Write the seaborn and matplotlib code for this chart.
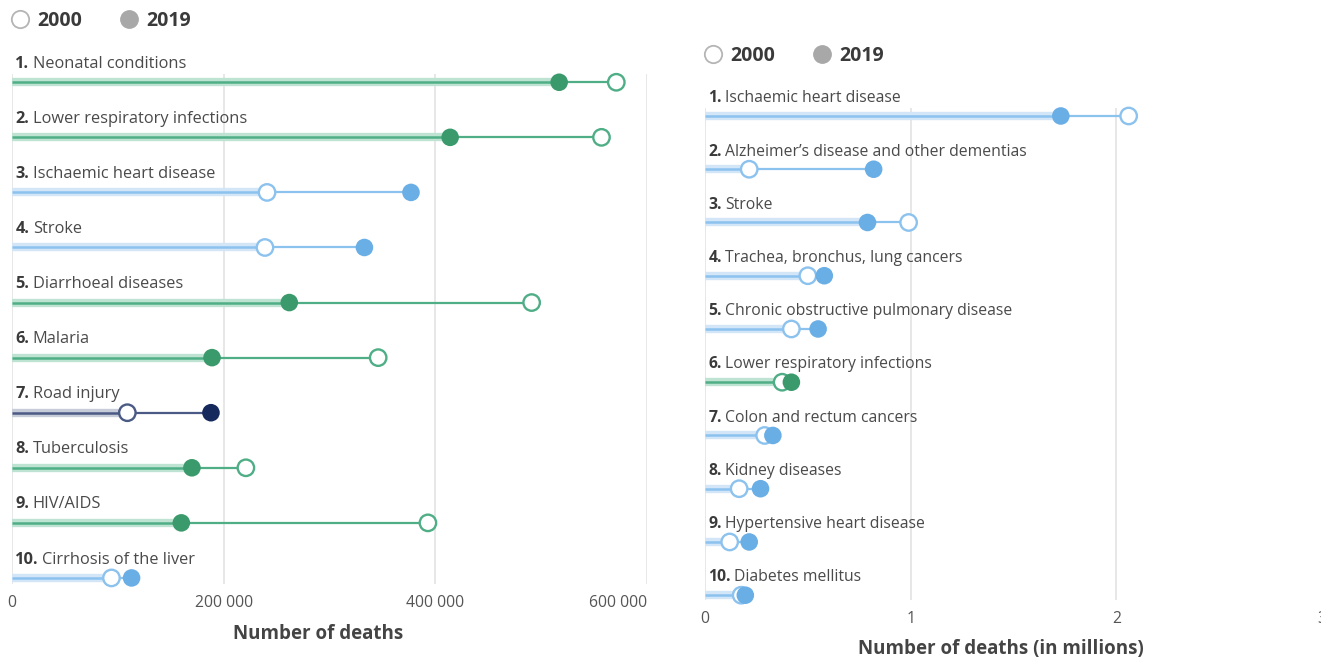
import matplotlib
matplotlib.use("Agg")
import matplotlib.pyplot as plt
from matplotlib.lines import Line2D
from matplotlib.ticker import FuncFormatter
import seaborn as sns
import pandas as pd

# ---------------- data ----------------
left_causes = ["Neonatal conditions", "Lower respiratory infections", "Ischaemic heart disease",
               "Stroke", "Diarrhoeal diseases", "Malaria", "Road injury", "Tuberculosis",
               "HIV/AIDS", "Cirrhosis of the liver"]
left_2000 = [571000, 557000, 241000, 239000, 491000, 346000, 109000, 221000, 393000, 94000]
left_2019 = [517000, 414000, 377000, 333000, 262000, 189000, 188000, 170000, 160000, 113000]
left_group = ["Communicable", "Communicable", "Noncommunicable", "Noncommunicable", "Communicable",
              "Communicable", "Injuries", "Communicable", "Communicable", "Noncommunicable"]
left_ticks = [0, 200000, 400000, 600000]

right_causes = ["Ischaemic heart disease", "Alzheimer\u2019s disease and other dementias", "Stroke",
                "Trachea, bronchus, lung cancers", "Chronic obstructive pulmonary disease",
                "Lower respiratory infections", "Colon and rectum cancers", "Kidney diseases",
                "Hypertensive heart disease", "Diabetes mellitus"]
right_2000 = [2.06, 0.215, 0.99, 0.50, 0.42, 0.375, 0.29, 0.166, 0.12, 0.176]
right_2019 = [1.73, 0.82, 0.79, 0.58, 0.55, 0.42, 0.33, 0.27, 0.215, 0.196]
right_group = ["Noncommunicable", "Noncommunicable", "Noncommunicable", "Noncommunicable",
               "Noncommunicable", "Communicable", "Noncommunicable", "Noncommunicable",
               "Noncommunicable", "Noncommunicable"]
right_ticks = [0, 1, 2, 3]

years = ["2000", "2019"]

# ---------------- styles ----------------
dot_col = {"Communicable": "#3b9a6c", "Noncommunicable": "#6aaee6", "Injuries": "#15295c"}
line_col = {"Communicable": "#4fae86", "Noncommunicable": "#8cc2ee", "Injuries": "#4a5a85"}
band_col = {"Communicable": "#bfe3d2", "Noncommunicable": "#d3e6f7", "Injuries": "#c7ccd9"}

sns.set_theme(style="white")
plt.rcParams["font.family"] = ["Open Sans", "DejaVu Sans"]

W, H = 1321, 659
fig = plt.figure(figsize=(W / 100, H / 100), dpi=100)


def px_axes(x0, x1, y0, y1):
    return fig.add_axes([x0 / W, 1 - y1 / H, (x1 - x0) / W, (y1 - y0) / H])


def draw_panel(ax, causes, v2000, v2019, groups, ticks, xlim, ylim, xlabel, fmt,
               label_size, label_dy, xlabel_xy, last_right):
    df = pd.DataFrame({"cause": causes, "y2000": v2000, "y2019": v2019,
                       "group": groups, "row": range(len(causes))})
    df["lo"] = df[["y2000", "y2019"]].min(axis=1)
    df["hi"] = df[["y2000", "y2019"]].max(axis=1)

    ax.set_xlim(*xlim)
    ax.set_ylim(*ylim)
    for t in ticks:
        ax.axvline(t, color="#e3e3e3", lw=1.2, zorder=0)

    # band from 0 to lower value
    ax.hlines(df["row"], 0, df["lo"], colors=[band_col[g] for g in df["group"]], lw=6, zorder=1)
    ax.hlines(df["row"], 0, df["lo"], colors=[line_col[g] for g in df["group"]], lw=1.8, zorder=2)
    # thin segment between the two years
    ax.hlines(df["row"], df["lo"], df["hi"], colors=[line_col[g] for g in df["group"]], lw=1.6, zorder=2)

    sns.scatterplot(data=df, x="y2000", y="row", color="white",
                    edgecolor=[line_col[g] for g in df["group"]], s=140, linewidth=1.7,
                    zorder=4, legend=False, ax=ax, clip_on=False)
    sns.scatterplot(data=df, x="y2019", y="row", hue="group", palette=dot_col, s=160,
                    linewidth=0, zorder=5, legend=False, ax=ax, clip_on=False)

    for i, c in enumerate(df["cause"]):
        num = ax.annotate(f"{i + 1}.", xy=(0, i), xytext=(2.5, label_dy), textcoords="offset points",
                          fontsize=label_size, fontweight="bold", color="#3a3a3a",
                          va="bottom", ha="left")
        ax.annotate(c, xy=(1, 0), xycoords=num, xytext=(2.5, 0), textcoords="offset points",
                    fontsize=label_size, color="#4a4a4a", va="bottom", ha="left")

    ax.set_xticks(ticks)
    ax.xaxis.set_major_formatter(FuncFormatter(fmt))
    ax.tick_params(axis="x", length=0, labelsize=11.3, labelcolor="#555555", pad=8)
    if last_right:
        ax.get_xticklabels()[-1].set_ha("right")
    ax.set_yticks([])
    ax.set_ylabel("")
    ax.set_xlabel(xlabel, fontsize=13.5, fontweight="bold", color="#444444")
    ax.xaxis.set_label_coords(*xlabel_xy)
    for s in ax.spines.values():
        s.set_visible(False)
    return ax


def add_legend(x, y):
    handles = [Line2D([], [], marker="o", ls="", markerfacecolor="white",
                      markeredgecolor="#b5b5b5", markeredgewidth=1.3, markersize=12.5),
               Line2D([], [], marker="o", ls="", markerfacecolor="#a8a8a8",
                      markeredgecolor="#a8a8a8", markersize=12.5)]
    fig.legend(handles, years, loc="center left", bbox_to_anchor=(x / W, 1 - y / H),
               ncol=2, frameon=False, handletextpad=0.4, columnspacing=1.9,
               handlelength=1.0, borderaxespad=0, borderpad=0,
               prop={"weight": "bold", "size": 14}, labelcolor="#3a3a3a")


axL = px_axes(12, 647, 74, 584)
draw_panel(axL, left_causes, left_2000, left_2019, left_group, left_ticks,
           (0, 600000), (9.11, -0.15), "Number of deaths",
           lambda v, p: f"{int(v):,}".replace(",", " "),
           11.8, 7.5, (0.482, -0.078), True)

axR = px_axes(705, 1322, 108, 600)
draw_panel(axR, right_causes, right_2000, right_2019, right_group, right_ticks,
           (0, 3), (9.09, -0.15), "Number of deaths (in millions)",
           lambda v, p: f"{int(v)}",
           11.3, 7.0, (0.48, -0.079), False)

add_legend(10, 21)
add_legend(703, 56)

fig.savefig("out.png", dpi=100)
